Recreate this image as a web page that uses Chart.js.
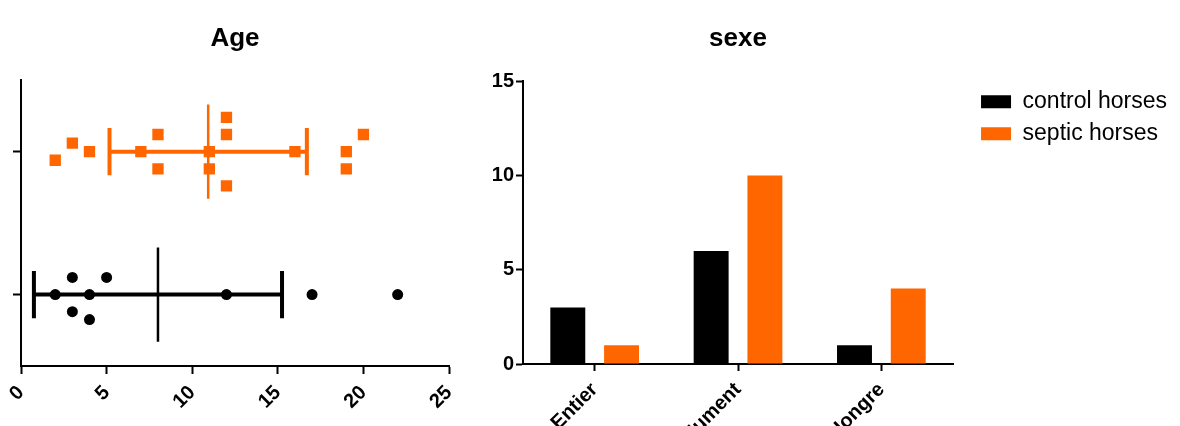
<!DOCTYPE html>
<html>
<head>
<meta charset="utf-8">
<script src="https://cdn.jsdelivr.net/npm/chart.js@4.4.1/dist/chart.umd.min.js"></script>
<style>
  html, body { margin: 0; padding: 0; background: #fff; overflow: hidden; width: 1180px; height: 426px; }
  #ageChart { position: absolute; left: 0; top: 0; }
  #sexeChart { position: absolute; left: 270px; top: 0; }
</style>
</head>
<body>
<canvas id="ageChart" width="473" height="426"></canvas>
<canvas id="sexeChart" width="910" height="470"></canvas>
<script>
// Age (years), one value per horse
const controlAges = [2, 3, 3, 4, 4, 5, 12, 17, 22];
const septicAges = [2, 3, 4, 7, 8, 8, 11, 11, 12, 12, 12, 16, 19, 19, 20];
// small vertical scatter of each point inside its row (category units)
const controlSpread = [0, 0.12, -0.12, 0, -0.175, 0.12, 0, 0, 0];
const septicSpread = [-0.06, 0.06, 0, 0, 0.12, -0.12, 0, -0.12, 0.24, 0.12, -0.24, 0, 0, -0.12, 0.12];
const ageTicks = [0, 5, 10, 15, 20, 25];
const controlRow = 0.5;
const septicRow = 1.5;

// sexe counts
const sexeLabels = ['Entier', 'Jument', 'Hongre'];
const controlSexe = [3, 6, 1];
const septicSexe = [1, 10, 4];
const sexeTicks = [0, 5, 10, 15];

const ORANGE = '#FF6600';
const BLACK = '#000000';
Chart.defaults.font.family = "'Liberation Sans', Arial, sans-serif";
Chart.defaults.color = BLACK;

const tickFont = { size: 20, weight: 'bold' };

function meanSd(a) {
    const m = a.reduce((s, v) => s + v, 0) / a.length;
    const sd = Math.sqrt(a.reduce((s, v) => s + (v - m) * (v - m), 0) / (a.length - 1));
    return [m, sd];
}

function seg(x1, y1, x2, y2, color, width) {
    return {
        data: [{ x: x1, y: y1 }, { x: x2, y: y2 }],
        showLine: true,
        borderColor: color,
        borderWidth: width,
        borderCapStyle: 'butt',
        pointRadius: 0,
        fill: false
    };
}

function errorBars(ages, row, color) {
    const [m, sd] = meanSd(ages);
    return [
        seg(m - sd, row, m + sd, row, color, 4),
        seg(m - sd, row - 0.165, m - sd, row + 0.165, color, 4),
        seg(m + sd, row - 0.165, m + sd, row + 0.165, color, 4),
        seg(m, row - 0.33, m, row + 0.33, color, 2.5)
    ];
}

function points(ages, spread, row, color, style, radius) {
    return {
        data: ages.map((v, i) => ({ x: v, y: row + spread[i] })),
        pointStyle: style,
        pointRadius: radius,
        pointBackgroundColor: color,
        pointBorderWidth: 0,
        showLine: false
    };
}

// Age chart
new Chart(document.getElementById('ageChart'), {
    type: 'scatter',
    data: {
        datasets: [
            points(septicAges, septicSpread, septicRow, ORANGE, 'rect', 8),
            points(controlAges, controlSpread, controlRow, BLACK, 'circle', 5.5),
            ...errorBars(septicAges, septicRow, ORANGE),
            ...errorBars(controlAges, controlRow, BLACK)
        ]
    },
    options: {
        responsive: false,
        animation: false,
        plugins: {
            legend: { display: false },
            tooltip: { enabled: false },
            title: {
                display: true,
                text: 'Age',
                fullSize: false,
                font: { size: 26, weight: 'bold' },
                padding: { top: 23, bottom: 26 }
            }
        },
        scales: {
            x: {
                type: 'linear',
                min: 0,
                max: 25,
                afterBuildTicks: s => { s.ticks = ageTicks.map(v => ({ value: v })); },
                afterFit: s => { s.height = 60; },
                grid: { drawOnChartArea: false, tickLength: 8, tickColor: BLACK, tickWidth: 2 },
                border: { color: BLACK, width: 2 },
                ticks: { minRotation: 45, maxRotation: 45, font: tickFont, padding: 7 }
            },
            y: {
                type: 'linear',
                min: 0,
                max: 2,
                afterBuildTicks: s => { s.ticks = [controlRow, septicRow].map(v => ({ value: v })); },
                afterFit: s => { s.width = 21; },
                grid: { drawOnChartArea: false, tickLength: 8, tickColor: BLACK, tickWidth: 2 },
                border: { color: BLACK, width: 2 },
                ticks: { callback: () => '' }
            }
        }
    }
});

// Sexe chart
new Chart(document.getElementById('sexeChart'), {
    type: 'bar',
    data: {
        labels: sexeLabels,
        datasets: [{
            label: 'control horses',
            data: controlSexe,
            backgroundColor: BLACK,
            categoryPercentage: 0.75,
            barPercentage: 0.65
        }, {
            label: 'septic horses',
            data: septicSexe,
            backgroundColor: ORANGE,
            categoryPercentage: 0.75,
            barPercentage: 0.65
        }]
    },
    options: {
        responsive: false,
        animation: false,
        layout: { padding: { right: 3 } },
        plugins: {
            tooltip: { enabled: false },
            title: {
                display: true,
                text: 'sexe',
                fullSize: false,
                font: { size: 26, weight: 'bold' },
                padding: { top: 23, bottom: 27 }
            },
            legend: {
                position: 'right',
                align: 'start',
                fullSize: false,
                labels: { boxWidth: 30, boxHeight: 13, padding: 9, font: { size: 23 } }
            }
        },
        scales: {
            x: {
                afterFit: s => { s.height = 106; },
                grid: { offset: false, drawOnChartArea: false, tickLength: 7, tickColor: BLACK, tickWidth: 2 },
                border: { color: BLACK, width: 2 },
                ticks: { minRotation: 45, maxRotation: 45, font: tickFont, padding: 7 }
            },
            y: {
                min: 0,
                max: 15,
                afterBuildTicks: s => { s.ticks = sexeTicks.map(v => ({ value: v })); },
                afterFit: s => { s.width = 53; },
                grid: { drawOnChartArea: false, tickLength: 7, tickColor: BLACK, tickWidth: 2 },
                border: { color: BLACK, width: 2 },
                ticks: { font: tickFont, padding: 2 }
            },
            // empty spacers: room on the left (overlapping the Age chart) and a gap before the legend
            spaceLeft: { type: 'linear', position: 'left', display: false, weight: 5, afterFit: s => { s.width = 200; } },
            spaceRight: { type: 'linear', position: 'right', display: false, weight: 5, afterFit: s => { s.width = 19; } }
        }
    }
});
</script>
</body>
</html>
